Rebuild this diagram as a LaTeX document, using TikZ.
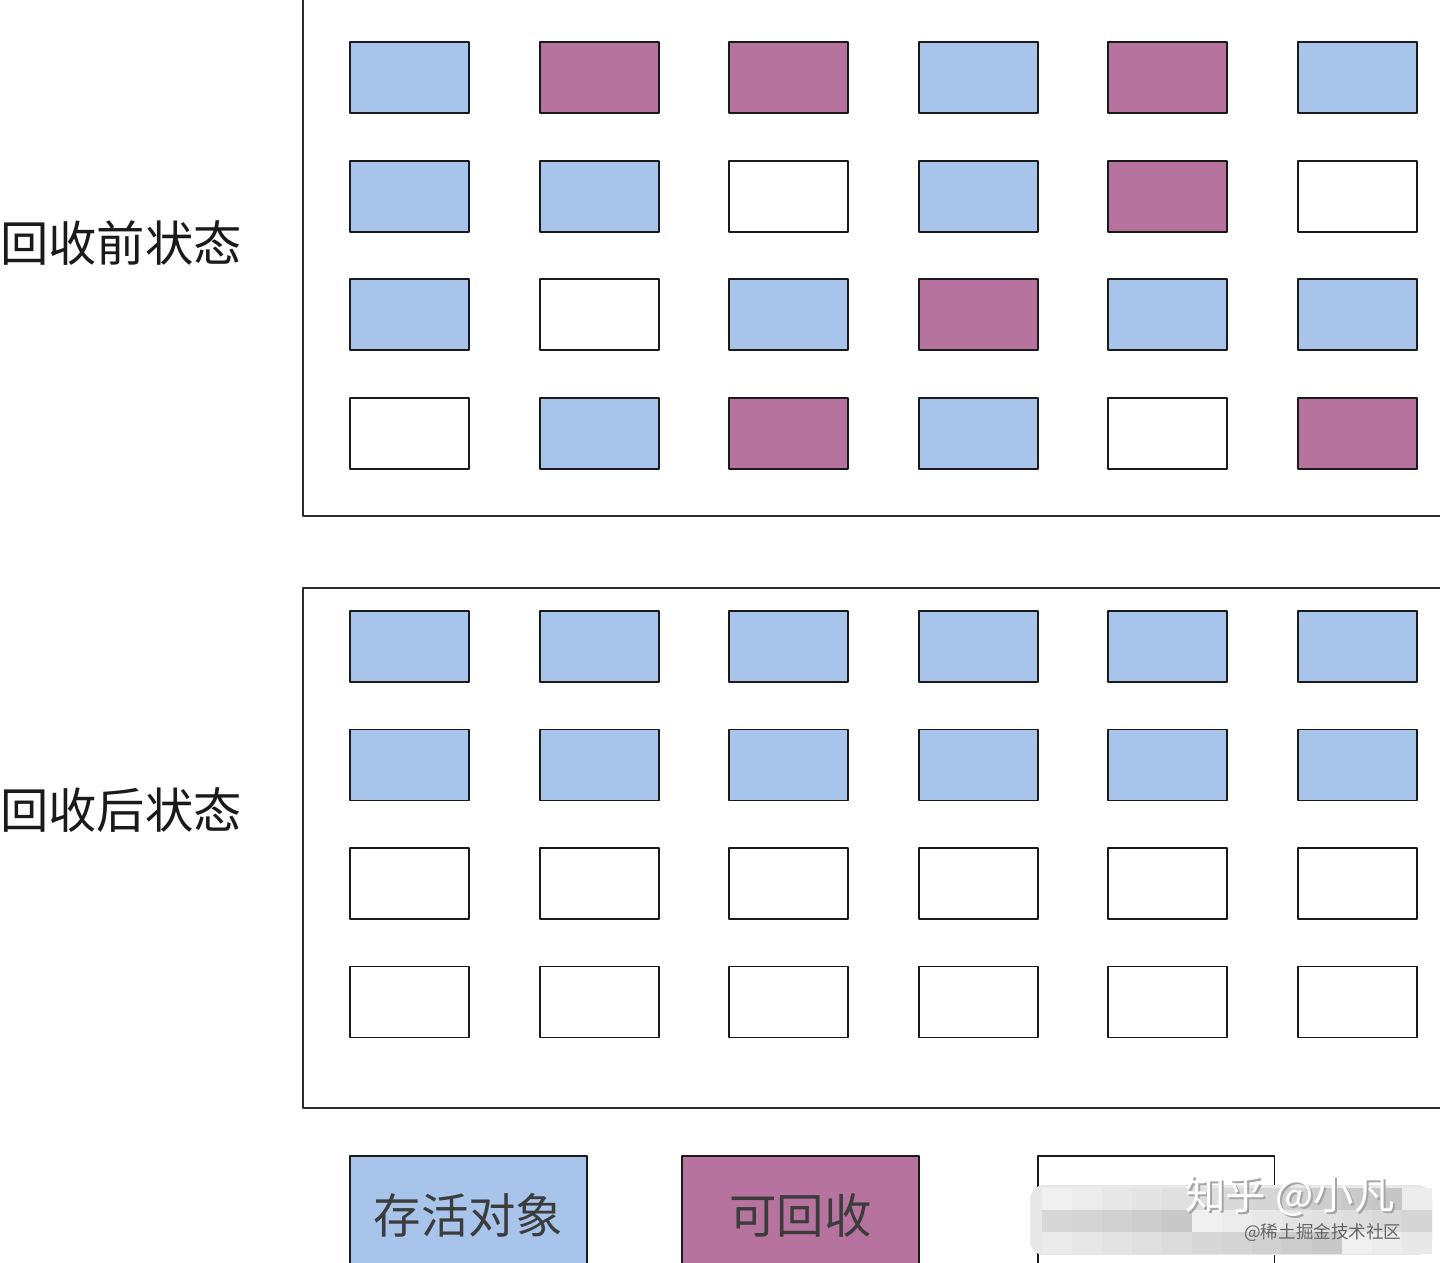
\documentclass[tikz,border=0pt]{standalone}
\usepackage{fontspec}
\setmainfont{Noto Sans CJK SC}
\usetikzlibrary{positioning}
\definecolor{cB}{HTML}{A9C4EB}
\definecolor{cP}{HTML}{B5739D}
\definecolor{cW}{HTML}{FFFFFF}
\definecolor{frameline}{HTML}{2B2B2B}
\definecolor{ink}{HTML}{1A1A1A}
\tikzset{
  cell/.style={draw=ink,line width=1.1pt,minimum width=2.38cm,minimum height=1.42cm,inner sep=0pt},
  keybox/.style={draw=ink,line width=1.1pt,minimum width=4.74cm,minimum height=2.36cm,inner sep=0pt,
    font=\fontsize{27}{30}\selectfont,text=ink!85},
  statelabel/.style={anchor=west,inner sep=0pt,font=\fontsize{27.5}{30}\selectfont,text=ink}
}

\begin{document}
\begin{tikzpicture}[x=0.02cm,y=-0.02cm,line cap=round,line join=round]
  \useasboundingbox (0,0) rectangle (1440,1262);
  \clip (0,0) rectangle (1440,1262);
  \fill[white] (0,0) rectangle (1440,1262);

  % heap before and after collection
  \draw[frameline,line width=1.1pt] (303,-20) -- (303,516) -- (1460,516);
  \draw[frameline,line width=1.1pt] (1460,588) -- (303,588) -- (303,1108) -- (1460,1108);
  \node[statelabel] (before) at (0,243) {回收前状态};
  \node[statelabel] (after) at (0,810) {回收后状态};

  \foreach \row [count=\r from 0] in {{B,P,P,B,P,B},{B,B,W,B,P,W},{B,W,B,P,B,B},{W,B,P,B,W,P}}{
    \foreach \c [count=\k from 0] in \row
      \node[cell,fill=c\c] (pre-\r-\k) at (409.5+189.6*\k,77.5+118.7*\r) {};
  }
  \foreach \row [count=\r from 0] in {{B,B,B,B,B,B},{B,B,B,B,B,B},{W,W,W,W,W,W},{W,W,W,W,W,W}}{
    \foreach \c [count=\k from 0] in \row
      \node[cell,fill=c\c] (post-\r-\k) at (409.5+189.6*\k,646.5+118.5*\r) {};
  }

  % legend
  \node[keybox,fill=cB] (alive) at (468.5,1215) {存活对象};
  \node[keybox,fill=cP] (garbage) at (800.5,1215) {可回收};
  \node[keybox,fill=cW] (free) at (1156,1215) {};

  % watermark
  \fill[gray!18,rounded corners=8pt] (1030,1185) rectangle (1432,1255);
  \foreach \j in {0,1,2}{
    \foreach \i in {0,...,12}{
      \pgfmathsetmacro{\g}{12+mod(\i*37+\j*53,34)}
      \fill[gray!\g] (1042+30*\i,1188+22*\j) rectangle +(30,22);
    }
  }
  \node[text=gray!70,font=\fontsize{23}{26}\selectfont] at (1292,1198) {知乎 @小凡};
  \node[text=white,font=\fontsize{23}{26}\selectfont] (mark) at (1290,1196) {知乎 @小凡};
  \node[text=gray!80!black,font=\fontsize{10}{12}\selectfont,below=-3pt of mark.south east,anchor=north east,xshift=4pt] (site) {@稀土掘金技术社区};
\end{tikzpicture}
\end{document}
